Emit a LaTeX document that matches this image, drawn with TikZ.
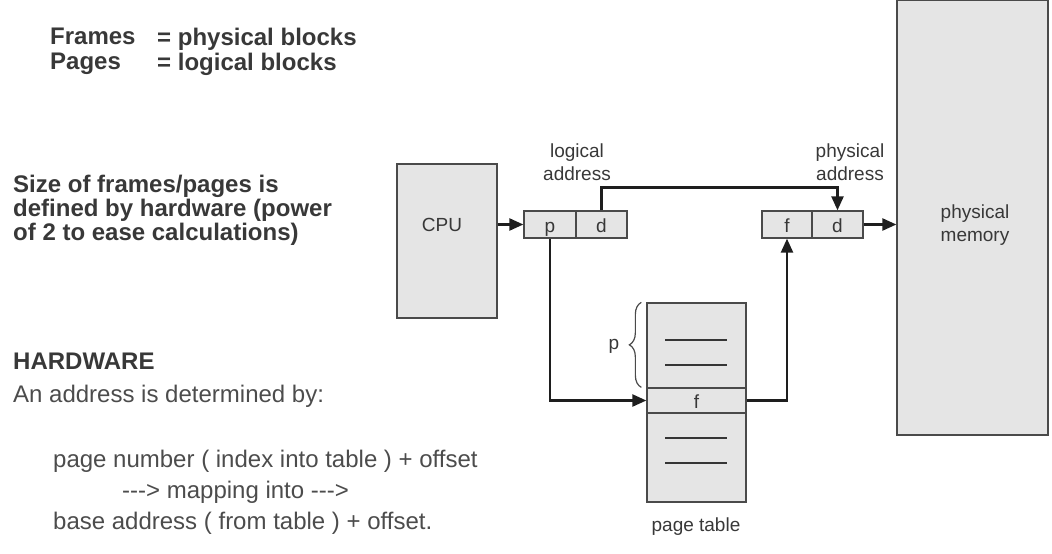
\documentclass[tikz,border=0pt]{standalone}
\usepackage{fontspec}
\setmainfont{Liberation Sans}
\usetikzlibrary{arrows.meta,positioning,decorations.pathreplacing}
\definecolor{BoxGray} {HTML}{E5E5E5}
\definecolor{EdgeGray}{HTML}{4A4A4A}
\definecolor{InkGray} {HTML}{383838}
\definecolor{LineDark}{HTML}{1E1E1E}
\tikzset{
  gbox/.style={rectangle,draw=EdgeGray,fill=BoxGray,line width=1.3pt,inner sep=0pt},
  cell/.style={gbox,minimum height=27pt,text height=15pt,text depth=0pt,
               font=\fontsize{19}{22}\selectfont\color{InkGray}},
  lbl/.style={font=\fontsize{19}{23}\selectfont\color{InkGray},align=center,inner sep=0pt},
  note/.style={font=\fontsize{24}{25}\selectfont\bfseries\color{InkGray},
               align=left,inner sep=0pt,anchor=north west},
  plain/.style={note,font=\fontsize{24}{31}\selectfont\color{InkGray!90}},
  conn/.style={line width=2.4pt,color=LineDark},
  carr/.style={conn,-{Triangle[length=14pt,width=12pt]}},
  rowline/.style={line width=1.6pt,color=LineDark!90},
}

\begin{document}
\begin{tikzpicture}[x=1pt,y=-1pt]
  \useasboundingbox (0,0) rectangle (1052,554);

  % left hand notes
  \node[note] (terms) at (50,28) {Frames\\Pages};
  \node[note] (means) at (157,28) {= physical blocks\\= logical blocks};
  \node[note,font=\fontsize{24}{24}\selectfont\bfseries\color{InkGray}] (size) at (13,175)
    {Size of frames/pages is\\defined by hardware (power\\of 2 to ease calculations)};
  \node[note] (hw) at (13,353) {HARDWARE};
  \node[plain] (addr) at (13,385) {An address is determined by:};
  \node[plain] (rule) at (53,450)
    {page number ( index into table ) + offset\\
     \hspace*{69pt}-{}-{}-> mapping into -{}-{}->\\
     base address ( from table ) + offset.};

  % boxes
  \node[gbox,minimum width=100pt,minimum height=154pt] (cpu) at (447,241) {};
  \node[lbl] (cputxt) at (442,225) {CPU};

  \node[cell,minimum width=52pt] (lp) at (550,224.5) {p};
  \node[cell,minimum width=51pt] (ld) at (601.5,224.5) {d};
  \node[cell,minimum width=50pt] (pf) at (787,224.5) {f};
  \node[cell,minimum width=51pt] (pd) at (837.5,224.5) {d};

  \node[gbox,minimum width=151pt,minimum height=435pt] (mem) at (972.5,217.5) {};
  \node[lbl] (memtxt) at (975,225) {physical\\memory};

  \node[gbox,minimum width=99pt,minimum height=199pt] (ptab) at (696.5,402.5) {};
  \node[cell,minimum width=99pt,minimum height=25pt] (ptf) at (696.5,400.5) {f};
  \foreach \y in {340,365,438,463}
    \draw[rowline] (665,\y) -- (727,\y);

  % labels
  \node[lbl] (lalbl) at (577,162) {logical\\address};
  \node[lbl] (palbl) at (850,162) {physical\\address};
  \node[lbl] (ptlbl) at (696,527) {page table};
  \node[lbl] (plbl) at (614,346) {p};
  \draw[decorate,decoration={brace,amplitude=12pt},line width=1.2pt,EdgeGray]
    ([xshift=-5pt]ptf.north west) -- ([xshift=-5pt]ptab.north west);

  % connectors
  \draw[carr] (cpu.east |- lp.west) -- (lp.west);
  \draw[carr] (ld.north) -- ++(0,-23) -| (pd.north);
  \draw[carr] (pd.east) -- (pd.east -| mem.west);
  \draw[carr] (lp.south) |- (ptf.west);
  \draw[carr] (ptf.east) -| (pf.south);

\end{tikzpicture}
\end{document}
